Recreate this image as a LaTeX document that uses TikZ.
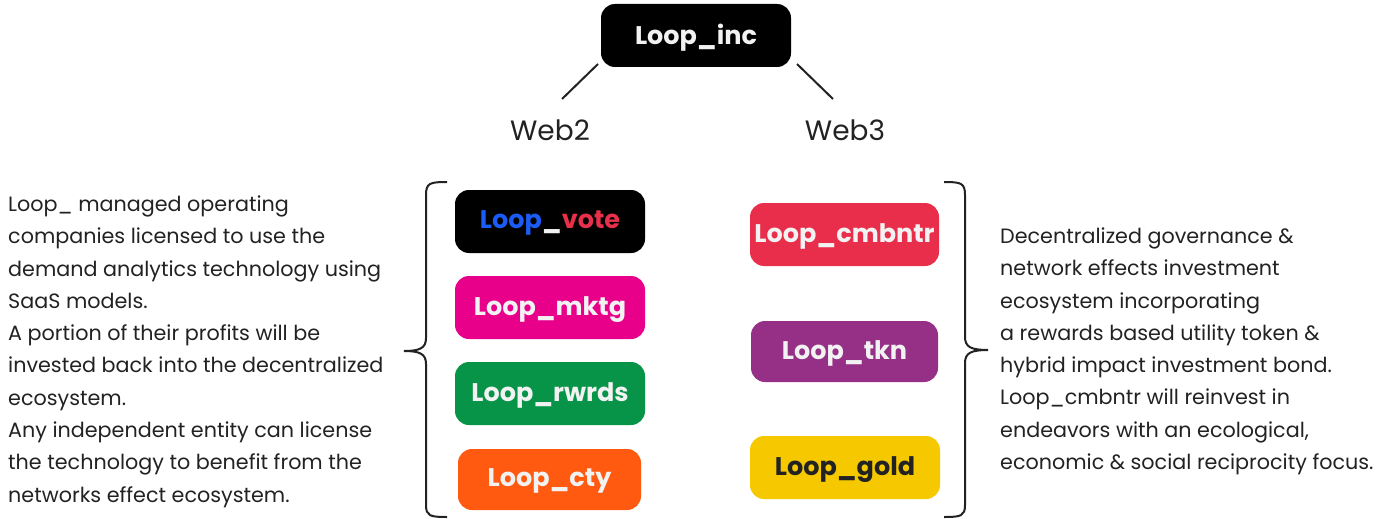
\documentclass[tikz,border=0pt]{standalone}
\usepackage{fontspec}
\setmainfont{Poppins}
\definecolor{cvoteb}{HTML}{1A5CF5}
\definecolor{cvoter}{HTML}{E8304A}
\definecolor{cmktg}{HTML}{E8008A}
\definecolor{crwrds}{HTML}{079448}
\definecolor{ccty}{HTML}{FF5A10}
\definecolor{ccmb}{HTML}{E82E4A}
\definecolor{ctkn}{HTML}{963087}
\definecolor{cgold}{HTML}{F5C800}
\definecolor{ctxt}{HTML}{222222}
\definecolor{cwhite}{HTML}{F2F2F2}
\begin{document}
\begin{tikzpicture}[x=1pt,y=-1pt,
  pill/.style={rounded corners=14pt,minimum width=190pt,minimum height=63pt,inner sep=0pt,
    font=\fontsize{25.5}{30}\selectfont\bfseries,text=cwhite,text depth=3pt},
  lbl/.style={font=\fontsize{28}{32}\selectfont,text=ctxt,inner sep=0pt},
  body/.style={font=\fontsize{20.7}{32.3}\selectfont,text=ctxt,align=left,anchor=north west,inner sep=0pt},
  conn/.style={line width=2pt,ctxt},
  brace/.style={line width=2pt,ctxt}]
\useasboundingbox (0,0) rectangle (1389,519);
\node[pill,fill=black] (inc) at (696,35.5) {Loop\_inc};
\node[lbl] (w2) at (550,130) {Web2};
\node[lbl] (w3) at (845,130) {Web3};
\coordinate (c1) at (598,64);
\coordinate (c2) at (562,99);
\coordinate (c3) at (797,64);
\coordinate (c4) at (833,99);
\draw[conn] (c1) -- (c2);
\draw[conn] (c3) -- (c4);
\node[pill,fill=black] (vote) at (550,221.5) {\textcolor{cvoteb}{Loop}\textcolor{cwhite}{\_}\textcolor{cvoter}{vote}};
\node[pill,fill=cmktg] (mktg) at (550,307.5) {Loop\_mktg};
\node[pill,fill=crwrds] (rwrds) at (550,393.5) {Loop\_rwrds};
\node[pill,fill=ccty,minimum width=183pt,minimum height=61pt] (cty) at (549.5,479.5) {Loop\_cty};
\node[pill,fill=ccmb,minimum width=189pt] (cmb) at (844.5,234.5) {Loop\_cmbntr};
\node[pill,fill=ctkn,minimum width=187pt,minimum height=61pt] (tkn) at (844.5,351.5) {Loop\_tkn};
\node[pill,fill=cgold,text=ctxt] (gold) at (845,467.5) {Loop\_gold};
\draw[brace] (447,182) .. controls (430,182) and (426,183) .. (426,195) -- (426,338)
  .. controls (426,348) and (420,351) .. (404,351)
  .. controls (420,351) and (426,354) .. (426,364) -- (426,505)
  .. controls (426,516) and (430,517) .. (447,517);
\draw[brace] (944,182) .. controls (961,182) and (965,183) .. (965,195) -- (965,337)
  .. controls (965,347) and (971,350) .. (988,350)
  .. controls (971,350) and (965,353) .. (965,363) -- (965,505)
  .. controls (965,516) and (961,517) .. (944,517);
\node[body] (ltxt) at (8,195.5) {Loop\_ managed operating\\companies licensed to use the\\demand analytics technology using\\SaaS models.\\A portion of their profits will be\\invested back into the decentralized\\ecosystem.\\Any independent entity can license\\the technology to benefit from the\\networks effect ecosystem.};
\node[body] (rtxt) at (1000,227.5) {Decentralized governance \&\\network effects investment\\ecosystem incorporating\\a rewards based utility token \&\\hybrid impact investment bond.\\Loop\_cmbntr will reinvest in\\endeavors with an ecological,\\economic \& social reciprocity focus.};
\end{tikzpicture}
\end{document}
